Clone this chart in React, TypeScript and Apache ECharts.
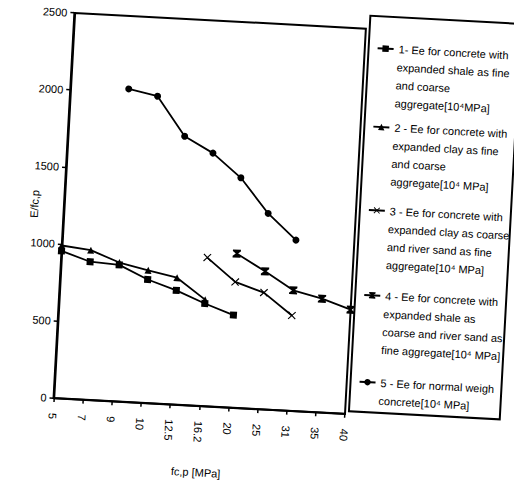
import { useEffect, useRef } from "react";
import * as echarts from "echarts";

// Category axis (concrete strength classes)
const categories = ["5", "7", "9", "10", "12.5", "16.2", "20", "25", "31", "35", "40"];

// Series values (E / fc,p)
const s1 = [955, 895, 885, 800, 740, 665, 600, null, null, null, null];
const s2 = [990, 970, 900, 860, 822, 690, null, null, null, null, null];
const s3 = [null, null, null, null, null, 963, 815, 756, 618, null, null];
const s4 = [null, null, null, null, null, null, 999, 894, 781, 737, 676];
const s5 = [null, null, 2027, 1990, 1740, 1641, 1491, 1270, 1107, null, null];

const seriesNames = [
  "1- Ee for concrete with\nexpanded shale as fine\nand coarse\naggregate[10⁴MPa]",
  "2 - Ee for concrete with\nexpanded clay as fine\nand coarse\naggregate[10⁴ MPa]",
  "3 - Ee for concrete with\nexpanded clay as coarse\nand river sand as fine\naggregate[10⁴ MPa]",
  "4 - Ee for concrete with\nexpanded shale as\ncoarse and river sand as\nfine aggregate[10⁴ MPa]",
  "5 - Ee for normal weigh\nconcrete[10⁴ MPa]",
];

const yMin = 0;
const yMax = 2500;
const yInterval = 500;

const FONT = "'Liberation Sans', Arial, sans-serif";
const INK = "#000";
const LH = 18;

const X_SYMBOL = "path://M0,1 L1,0 L5,4 L9,0 L10,1 L6,5 L10,9 L9,10 L5,6 L1,10 L0,9 L4,5 Z";
const HOUR_SYMBOL = "path://M0,0 L10,0 L10,2 L6.2,5 L10,8 L10,10 L0,10 L0,8 L3.8,5 L0,2 Z";

export default function App() {
  const ref = useRef<HTMLDivElement>(null);

  useEffect(() => {
    if (!ref.current) return;
    const chart = echarts.init(ref.current, null, { renderer: "svg" });

    const dataSets = [s1, s2, s3, s4, s5];
    const symbols = ["rect", "triangle", X_SYMBOL, HOUR_SYMBOL, "circle"];
    const symbolSizes = [7, 7, 8, 8, 7];
    const legendCenters = [42, 120.5, 204, 289, 376];
    const legendLeft = 366;
    const iconW = 16;
    const textX = legendLeft + iconW + 5;

    const series = dataSets.map((d, i) => ({
      type: "line",
      name: seriesNames[i],
      data: d,
      symbol: symbols[i],
      symbolSize: symbolSizes[i],
      showSymbol: true,
      lineStyle: { color: INK, width: 1.8 },
      itemStyle: { color: INK },
      z: 3,
    }));

    const legends = seriesNames.map((name, i) => ({
      data: [name],
      orient: "vertical",
      left: legendLeft,
      top: legendCenters[i] - LH / 2,
      padding: 0,
      itemWidth: iconW,
      itemHeight: 8,
      selectedMode: false,
      formatter: (n: string) => n.split("\n")[0],
      textStyle: {
        color: INK,
        fontFamily: FONT,
        fontSize: 11,
        lineHeight: LH,
      },
    }));

    const continuation = seriesNames.map((name, i) => ({
      type: "text",
      silent: true,
      style: {
        text: name.split("\n").slice(1).join("\n"),
        x: textX,
        y: legendCenters[i] + LH / 2,
        fill: INK,
        fontFamily: FONT,
        fontSize: 11,
        lineHeight: LH,
        align: "left",
        verticalAlign: "top",
      },
    }));

    chart.setOption({
      animation: false,
      backgroundColor: "#fff",
      grid: {
        left: 62.3,
        top: 23.1,
        right: 159.8,
        bottom: 74.2,
        show: true,
        borderColor: "#000",
        borderWidth: 2,
        containLabel: false,
        outerBoundsMode: "none",
      },
      legend: legends,
      xAxis: {
        type: "category",
        data: categories,
        boundaryGap: false,
        name: "fc,p [MPa]",
        nameLocation: "middle",
        nameGap: 61,
        nameMoveOverlap: false,
        nameTextStyle: { color: INK, fontFamily: FONT, fontSize: 11 },
        axisLine: { lineStyle: { color: "#000", width: 2 } },
        axisTick: { show: true, interval: 0, length: 4, lineStyle: { color: "#000", width: 1.5 } },
        axisLabel: {
          interval: 0,
          rotate: -90,
          margin: 15,
          color: INK,
          fontFamily: FONT,
          fontSize: 11,
        },
        splitLine: { show: false },
      },
      yAxis: {
        type: "value",
        min: yMin,
        max: yMax,
        interval: yInterval,
        name: "E/fc,p",
        nameLocation: "middle",
        nameRotate: 90,
        nameGap: 24,
        nameMoveOverlap: false,
        nameTextStyle: { color: INK, fontFamily: FONT, fontSize: 11 },
        axisLine: { show: true, lineStyle: { color: "#000", width: 2 } },
        axisTick: { show: true, length: 4, lineStyle: { color: "#000", width: 1.5 } },
        axisLabel: {
          margin: 7,
          color: INK,
          fontFamily: FONT,
          fontSize: 11,
          formatter: (v: number) => String(v),
        },
        splitLine: { show: false },
      },
      graphic: [
        {
          type: "rect",
          shape: { x: 358, y: 10, width: 151, height: 396 },
          style: { fill: "none", stroke: "#000", lineWidth: 2 },
          silent: true,
        },
        ...continuation,
      ],
      series,
    });

    return () => chart.dispose();
  }, []);

  return (
    <div
      ref={ref}
      style={{
        position: "absolute",
        left: 0,
        top: 0,
        width: 514,
        height: 483,
        transform: "rotate(3.1deg)",
        transformOrigin: "50% 50%",
      }}
    />
  );
}
